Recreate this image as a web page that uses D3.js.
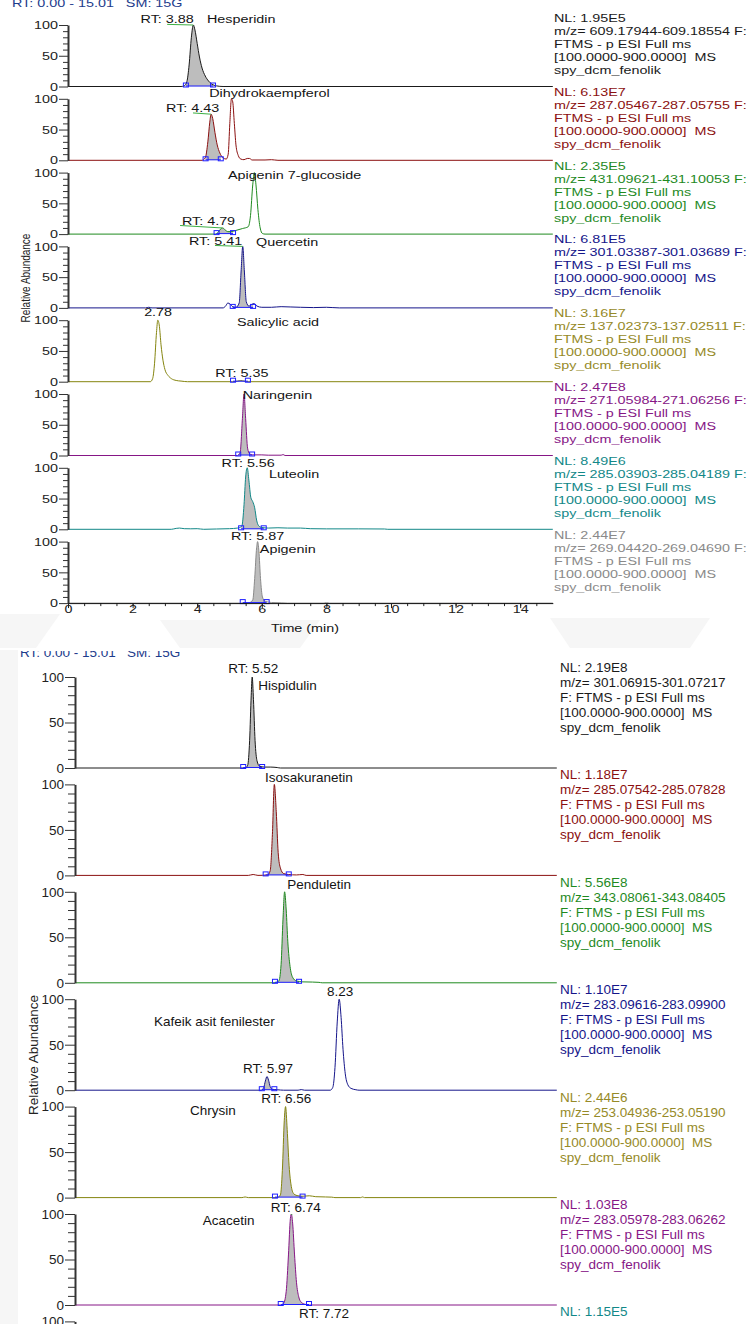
<!DOCTYPE html>
<html>
<head>
<meta charset="utf-8">
<script src="https://cdn.jsdelivr.net/npm/d3@7"></script>
<style>
  body { margin: 0; background: #fff; }
  svg { display: block; font-family: "Liberation Sans", Arial, sans-serif; }
</style>
</head>
<body>
<div id="chart"></div>
<script>
// ---- data: upper figure (time in min, relative abundance in %) ----
const topNames = ['Hesperidin', 'Dihydrokaempferol', 'Apigenin 7-glucoside', 'Quercetin',
  'Salicylic acid', 'Naringenin', 'Luteolin', 'Apigenin'];
const topNL = ['1.95E5', '6.13E7', '2.35E5', '6.81E5', '3.16E7', '2.47E8', '8.49E6', '2.44E7'];
const topMZ = ['609.17944-609.18554', '287.05467-287.05755', '431.09621-431.10053', '301.03387-301.03689',
  '137.02373-137.02511', '271.05984-271.06256', '285.03903-285.04189', '269.04420-269.04690'];
const topColors = ['#1a1a1a', '#8b1010', '#1f8a1f', '#15158a', '#85850f', '#861686', '#128888', '#8a8a8a'];

const hesperidin = [[0, 0], [3.5, 0], [3.6, 1], [3.68, 8], [3.75, 35], [3.82, 80], [3.88, 100], [3.93, 92],
  [4.0, 70], [4.07, 48], [4.15, 30], [4.25, 17], [4.35, 9], [4.45, 4], [4.6, 1], [4.8, 0], [15.01, 0]];
const dihydrokaempferol = [[0, 0], [4.15, 0], [4.25, 4], [4.33, 30], [4.39, 62], [4.43, 75], [4.48, 68],
  [4.55, 45], [4.62, 25], [4.7, 12], [4.8, 4], [4.9, 2], [4.96, 10], [5.01, 60], [5.06, 100], [5.1, 95],
  [5.15, 60], [5.2, 25], [5.27, 8], [5.35, 2], [5.45, 1], [5.55, 3], [5.62, 3], [5.7, 0.5], [6.1, 0.5],
  [6.3, 1], [6.5, 0], [15.01, 0]];
const apigenin7g = [[0, 0], [4.55, 0], [4.65, 3], [4.72, 8], [4.79, 10], [4.86, 7], [4.95, 4], [5.05, 4],
  [5.2, 6], [5.4, 9], [5.58, 12], [5.65, 30], [5.72, 80], [5.77, 100], [5.82, 80], [5.88, 40], [5.95, 10],
  [6.02, 1], [6.1, 0], [15.01, 0]];
const quercetin = [[0, 0], [2.4, 0], [2.5, 1], [2.6, 0], [4.8, 0], [4.88, 3], [4.95, 8], [5.02, 6], [5.1, 2],
  [5.2, 1], [5.3, 8], [5.36, 60], [5.41, 100], [5.46, 60], [5.52, 10], [5.6, 3], [5.7, 6], [5.76, 7],
  [5.85, 3], [6.0, 1], [6.3, 1], [6.6, 2], [6.9, 1.5], [7.2, 1], [7.6, 0.5], [8.0, 1], [8.2, 0.5], [8.4, 0],
  [15.01, 0]];
const salicylic = [[0, 0], [2.55, 0], [2.62, 5], [2.68, 30], [2.74, 80], [2.78, 100], [2.83, 90], [2.88, 60],
  [2.94, 35], [3.0, 20], [3.1, 10], [3.2, 5], [3.35, 2], [3.5, 1], [3.7, 0], [5.1, 0], [5.25, 1], [5.35, 2],
  [5.45, 1], [5.6, 0], [15.01, 0]];
const naringenin = [[0, 0], [5.25, 0], [5.33, 5], [5.4, 60], [5.45, 100], [5.5, 60], [5.56, 12], [5.62, 3],
  [5.7, 1], [6.0, 1], [6.2, 0.5], [6.6, 0.5], [6.66, 1.5], [6.72, 0], [15.01, 0]];
const luteolin = [[0, 0], [3.2, 0], [3.35, 1.5], [3.45, 2], [3.6, 1], [3.8, 0.8], [4.0, 1], [4.2, 0], [4.6, 0.5],
  [5.0, 1], [5.25, 2], [5.38, 5], [5.45, 40], [5.5, 85], [5.55, 100], [5.6, 80], [5.66, 52], [5.72, 45],
  [5.78, 35], [5.84, 15], [5.9, 6], [6.0, 3], [6.2, 2], [6.5, 2.5], [6.8, 2], [7.2, 2], [7.5, 1], [8.0, 0.7],
  [9.0, 0.7], [9.8, 0.5], [9.9, 0], [15.01, 0]];
const apigenin = [[0, 0], [5.3, 0], [5.6, 0.5], [5.72, 5], [5.78, 40], [5.84, 90], [5.87, 100], [5.91, 85],
  [5.96, 40], [6.02, 10], [6.1, 3], [6.3, 1], [6.6, 0.5], [6.8, 0], [7.9, 0], [8.0, 0.7], [8.1, 0], [15.01, 0]];
const topTraces = [hesperidin, dihydrokaempferol, apigenin7g, quercetin, salicylic, naringenin, luteolin, apigenin];
// integrated peak limits (min)
const topFills = [[3.65, 4.49], [4.26, 4.73], [4.6, 5.11], [5.1, 5.73], [5.11, 5.57], [5.27, 5.7], [5.36, 6.06], [5.41, 6.15]];

// ---- data: lower figure ----
const botNames = ['Hispidulin', 'Isosakuranetin', 'Penduletin', 'Kafeik asit fenilester', 'Chrysin', 'Acacetin', ''];
const botNL = ['2.19E8', '1.18E7', '5.56E8', '1.10E7', '2.44E6', '1.03E8', '1.15E5'];
const botMZ = ['301.06915-301.07217', '285.07542-285.07828', '343.08061-343.08405', '283.09616-283.09900',
  '253.04936-253.05190', '283.05978-283.06262', null];
const botColors = ['#1a1a1a', '#8b1010', '#1f8a1f', '#15158a', '#85850f', '#861686', '#128888'];

const hispidulin = [[0, 0], [5.3, 0], [5.38, 3], [5.44, 30], [5.49, 80], [5.52, 100], [5.56, 75], [5.61, 30],
  [5.67, 8], [5.75, 2], [5.9, 1], [6.1, 1], [6.3, 0.5], [6.4, 0], [15.01, 0]];
const isosakuranetin = [[0, 0], [5.4, 0], [5.55, 1], [5.7, 0], [6.0, 0.5], [6.08, 5], [6.15, 45], [6.21, 100],
  [6.27, 70], [6.33, 25], [6.4, 8], [6.5, 2], [6.65, 1], [6.9, 0.5], [7.1, 1], [7.2, 0], [15.01, 0]];
const penduletin = [[0, 0], [6.2, 0], [6.35, 2], [6.42, 20], [6.48, 70], [6.53, 100], [6.58, 80], [6.63, 45],
  [6.7, 18], [6.78, 6], [6.9, 2], [7.1, 1], [7.4, 0.8], [7.6, 0.5], [7.7, 0], [15.01, 0]];
const kafeik = [[0, 0], [5.8, 0], [5.88, 3], [5.93, 10], [5.98, 15], [6.03, 11], [6.08, 4], [6.15, 1], [6.3, 0.5],
  [6.5, 0], [6.95, 0], [7.05, 0.7], [7.15, 0], [7.95, 0], [8.03, 3], [8.1, 25], [8.17, 75], [8.23, 100],
  [8.29, 80], [8.35, 45], [8.42, 18], [8.5, 6], [8.6, 2], [8.75, 0.5], [8.85, 0], [15.01, 0]];
const chrysin = [[0, 0], [5.2, 0], [5.3, 0.7], [5.4, 0], [6.3, 0], [6.4, 3], [6.46, 30], [6.52, 85], [6.56, 100],
  [6.61, 75], [6.67, 35], [6.74, 12], [6.82, 4], [6.95, 2], [7.1, 1.5], [7.3, 2], [7.5, 1], [7.8, 0.7],
  [8.0, 0.5], [8.1, 0], [8.9, 0], [8.96, 0.7], [9.02, 0], [15.01, 0]];
const acacetin = [[0, 0], [6.4, 0], [6.5, 2], [6.58, 15], [6.65, 55], [6.71, 95], [6.74, 100], [6.78, 90],
  [6.84, 55], [6.9, 25], [6.97, 9], [7.05, 3], [7.15, 1], [7.3, 0], [15.01, 0]];
const botTraces = [hispidulin, isosakuranetin, penduletin, kafeik, chrysin, acacetin, null];
const botFills = [[5.24, 5.83], [5.94, 6.66], [6.23, 6.98], [5.82, 6.21], [6.23, 7.09], [6.41, 7.29], null];

const timeTicks = [0, 2, 4, 6, 8, 10, 12, 14];
const abundanceTicks = [0, 50, 100];

// ---- annotations, anchored in data units (t = min, v = %) ----
const topLabels = [
  [{ text: 'RT: 3.88', t: 3.07, v: 103, mid: true, lead: [3.07, 101, 3.88, 100] }, { text: 'Hesperidin', t: 4.3, v: 103 }],
  [{ text: 'Dihydrokaempferol', t: 4.37, v: 103 }, { text: 'RT: 4.43', t: 3.86, v: 79, mid: true, lead: [3.87, 77, 4.43, 75] }],
  [{ text: 'Apigenin 7-glucoside', t: 4.95, v: 90 }, { text: 'RT: 4.79', t: 4.35, v: 15, mid: true, lead: [3.47, 14, 4.77, 10] }],
  [{ text: 'RT: 5.41', t: 4.57, v: 103, mid: true, lead: [4.55, 101.5, 5.41, 100] }, { text: 'Quercetin', t: 5.82, v: 100 }],
  [{ text: '2.78', t: 2.79, v: 107, mid: true }, { text: 'Salicylic acid', t: 5.23, v: 90 }, { text: 'RT: 5.35', t: 5.38, v: 8, mid: true }],
  [{ text: 'Naringenin', t: 5.41, v: 92 }],
  [{ text: 'RT: 5.56', t: 5.58, v: 102, mid: true }, { text: 'Luteolin', t: 6.22, v: 84 }],
  [{ text: 'RT: 5.87', t: 5.87, v: 102, mid: true }, { text: 'Apigenin', t: 5.94, v: 82 }]
];
const botLabels = [
  [{ text: 'RT: 5.52', t: 5.55, v: 104, mid: true }, { text: 'Hispidulin', t: 5.71, v: 86 }],
  [{ text: 'Isosakuranetin', t: 5.92, v: 103 }],
  [{ text: 'Penduletin', t: 6.61, v: 103 }],
  [{ text: '8.23', t: 8.26, v: 103, mid: true }, { text: 'Kafeik asit fenilester', t: 2.46, v: 71 },
    { text: 'RT: 5.97', t: 6.01, v: 19, mid: true }],
  [{ text: 'RT: 6.56', t: 6.58, v: 104, mid: true }, { text: 'Chrysin', t: 3.58, v: 91 }],
  [{ text: 'RT: 6.74', t: 6.88, v: 102, mid: true, lead: [6.76, 99, 6.74, 100] }, { text: 'Acacetin', t: 3.98, v: 88 }],
  [{ text: 'RT: 7.72', t: 7.76, v: 104, mid: true }]
];

// ---- drawing ----
const W = 755;
const H = 1324;
const svg = d3.select('#chart').append('svg').attr('width', W).attr('height', H);

// faint watermark shapes
const wm = svg.append('g').attr('fill', '#f6f6f6');
wm.append('path').attr('d', 'M0,614 L60,614 L36,648 L0,648 Z');
wm.append('path').attr('d', 'M160,620 L320,620 L300,648 L180,648 Z');
wm.append('path').attr('d', 'M550,618 L710,618 L690,648 L570,648 Z');
wm.append('path').attr('d', 'M0,650 L18,650 L18,1324 L0,1324 Z');

function putText(g, x, y, str, size, sx, color, anchor) {
  return g.append('text')
    .attr('transform', `translate(${x},${y}) scale(${sx},1)`)
    .attr('font-size', size)
    .attr('fill', color)
    .attr('text-anchor', anchor || 'start')
    .style('white-space', 'pre')
    .text(str);
}

const sections = [
  {
    key: 'top', names: topNames, nl: topNL, mz: topMZ, colors: topColors, traces: topTraces, fills: topFills,
    labels: topLabels, x: d3.scaleLinear().domain([0, 15.01]).range([68, 552.8]),
    zero0: 86.5, step: 73.8, h: 61.5, size: 11.5, sx: 1.25, textX: 554, lineH: 13, nlDy: -64.5,
    tickMajor: 9, tickMinor: 5, splitF: false
  },
  {
    key: 'bot', names: botNames, nl: botNL, mz: botMZ, colors: botColors, traces: botTraces, fills: botFills,
    labels: botLabels, x: d3.scaleLinear().domain([0, 15.01]).range([75, 556.8]),
    zero0: 768, step: 107.4, h: 91, size: 13.5, sx: 1, textX: 560, lineH: 15, nlDy: -96,
    tickMajor: 10, tickMinor: 7, splitF: true
  }
];

sections.forEach((s) => {
  const g = svg.append('g');
  const x = s.x;

  s.nl.forEach((nl, i) => {
    const z = s.zero0 + s.step * i;
    const y = d3.scaleLinear().domain([0, 100]).range([z, z - s.h]);
    const pg = g.append('g');
    const color = s.colors[i];

    // peak area (gray, clipped to integration limits)
    const trace = s.traces[i];
    if (trace) {
      const fill = s.fills[i];
      if (fill) {
        const id = `clip-${s.key}-${i}`;
        pg.append('clipPath').attr('id', id)
          .append('rect')
          .attr('x', x(fill[0])).attr('y', y(100) - 5)
          .attr('width', x(fill[1]) - x(fill[0])).attr('height', y(0) - y(100) + 5);
        pg.append('path')
          .datum(trace)
          .attr('clip-path', `url(#${id})`)
          .attr('fill', '#bdbdbd')
          .attr('d', d3.area().x(d => x(d[0])).y0(y(0)).y1(d => y(d[1])).curve(d3.curveMonotoneX));
      }
      pg.append('path')
        .datum(trace)
        .attr('fill', 'none')
        .attr('stroke', color)
        .attr('stroke-width', 1)
        .attr('d', d3.line().x(d => x(d[0])).y(d => y(d[1])).curve(d3.curveMonotoneX));

      if (fill) {
        pg.append('line')
          .attr('x1', x(fill[0])).attr('x2', x(fill[1]))
          .attr('y1', y(0) - 0.5).attr('y2', y(0) - 0.5)
          .attr('stroke', '#1f1fff').attr('stroke-width', 1);
        fill.forEach((t) => {
          pg.append('rect')
            .attr('x', x(t) - 2.5).attr('y', y(0) - 3.5)
            .attr('width', 5).attr('height', 4)
            .attr('fill', 'none').attr('stroke', '#1f1fff').attr('stroke-width', 1);
        });
      }
    }

    // y axis
    const minor = pg.append('g').attr('transform', `translate(${x(0)},0)`)
      .call(d3.axisLeft(y).tickValues([10, 20, 30, 40, 60, 70, 80, 90]).tickSize(s.tickMinor).tickSizeOuter(0).tickFormat(''));
    minor.select('.domain').remove();
    minor.selectAll('line').attr('stroke', '#333');
    const major = pg.append('g').attr('transform', `translate(${x(0)},0)`)
      .call(d3.axisLeft(y).tickValues(abundanceTicks).tickSize(s.tickMajor).tickSizeOuter(0).tickPadding(1));
    major.attr('font-size', s.size).attr('font-family', null);
    major.select('.domain').attr('stroke', '#333').attr('stroke-width', 2);
    major.selectAll('line').attr('stroke', '#333');
    major.selectAll('text')
      .attr('fill', '#222')
      .attr('x', -(s.tickMajor + 1) / s.sx)
      .attr('transform', `scale(${s.sx},1)`);

    // annotations
    s.labels[i].forEach((l) => {
      if (l.lead) {
        pg.append('line')
          .attr('x1', x(l.lead[0])).attr('y1', y(l.lead[1]))
          .attr('x2', x(l.lead[2])).attr('y2', y(l.lead[3]))
          .attr('stroke', '#3cb043').attr('stroke-width', 1);
      }
      putText(pg, x(l.t), y(l.v), l.text, s.size, s.sx, '#141414', l.mid ? 'middle' : 'start');
    });

    // right side info block
    const txtColor = color === '#85850f' ? '#968a28' : color;
    const lines = [`NL: ${nl}`];
    if (s.mz[i]) {
      if (s.splitF) {
        lines.push(`m/z= ${s.mz[i]}`, 'F: FTMS - p ESI Full ms');
      } else {
        lines.push(`m/z= ${s.mz[i]} F:`, 'FTMS - p ESI Full ms');
      }
      lines.push('[100.0000-900.0000]  MS', 'spy_dcm_fenolik');
    }
    lines.forEach((str, k) => {
      putText(pg, s.textX, z + s.nlDy + k * s.lineH, str, s.size, s.sx, txtColor);
    });
  });
});

// time axis under the upper figure
const xTop = sections[0].x;
const zLast = sections[0].zero0 + sections[0].step * 7;
const xMinor = svg.append('g').attr('transform', `translate(0,${zLast})`)
  .call(d3.axisBottom(xTop).tickValues(d3.range(0.5, 15, 0.5)).tickSize(3).tickSizeOuter(0).tickFormat(''));
xMinor.select('.domain').remove();
xMinor.selectAll('line').attr('stroke', '#222');
const xMajor = svg.append('g').attr('transform', `translate(0,${zLast})`)
  .call(d3.axisBottom(xTop).tickValues(timeTicks).tickSize(5).tickSizeOuter(0));
xMajor.attr('font-size', 11.5).attr('font-family', null);
xMajor.select('.domain').attr('stroke', '#111').attr('stroke-width', 1);
xMajor.selectAll('line').attr('stroke', '#222');
xMajor.selectAll('text').attr('y', 2).attr('fill', '#222').attr('transform', 'scale(1.25,1)');
putText(svg, 305, 632, 'Time (min)', 11.5, 1.25, '#141414', 'middle');

// axis titles
svg.append('text')
  .attr('transform', 'translate(30,278) rotate(-90) scale(1,1.25)')
  .attr('font-size', 10).attr('text-anchor', 'middle').attr('fill', '#222')
  .text('Relative Abundance');
svg.append('text')
  .attr('transform', 'translate(38,1055) rotate(-90)')
  .attr('font-size', 13.5).attr('text-anchor', 'middle').attr('fill', '#222')
  .text('Relative Abundance');

// range headers (cropped at their top edge, as in the source)
putText(svg, 12, 6.5, 'RT: 0.00 - 15.01   SM: 15G', 11.5, 1.25, '#1d3c8c');
svg.append('clipPath').attr('id', 'clip-head')
  .append('rect').attr('x', 19).attr('y', 651).attr('width', 300).attr('height', 20);
putText(svg.append('g').attr('clip-path', 'url(#clip-head)'), 20, 657, 'RT: 0.00 - 15.01   SM: 15G', 13.5, 1, '#1d3c8c');
</script>
</body>
</html>
